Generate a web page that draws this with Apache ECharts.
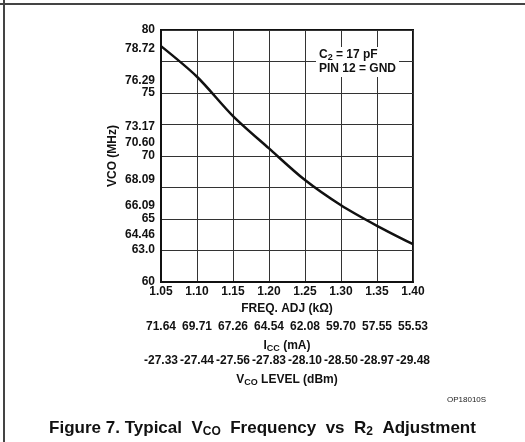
<!DOCTYPE html>
<html>
<head>
<meta charset="utf-8">
<script src="https://cdn.jsdelivr.net/npm/echarts@6/dist/echarts.min.js"></script>
<style>
html,body{margin:0;padding:0;background:#fff;}
#main{width:525px;height:442px;}
</style>
</head>
<body>
<div id="main"></div>
<script>
// ---- data ----
var freqAdj = [1.05, 1.10, 1.15, 1.20, 1.25, 1.30, 1.35, 1.40];       // kΩ
var vcoMHz  = [78.72, 76.29, 73.17, 70.60, 68.09, 66.09, 64.46, 63.0]; // MHz
var iccMA   = ['71.64', '69.71', '67.26', '64.54', '62.08', '59.70', '57.55', '55.53'];
var vcoLevel = ['-27.33', '-27.44', '-27.56', '-27.83', '-28.10', '-28.50', '-28.97', '-29.48'];
var yLabelValues = [80, 78.72, 76.29, 75, 73.17, 70.60, 70, 68.09, 66.09, 65, 64.46, 63.0, 60];
var yLabelText = ['80', '78.72', '76.29', '75', '73.17', '70.60', '70', '68.09', '66.09', '65', '64.46', '63.0', '60'];

// label nudges (style only) to mimic the reference's hand placement
var yLabelStyle = { '78.72': 'd3', '76.29': 'd4', '73.17': 'd11', '70.60': 'u6', '64.46': 'd9', '63.0': 'd5' };

var FONT = '"Liberation Sans", Arial, Helvetica, sans-serif';
var chart = echarts.init(document.getElementById('main'), null, { renderer: 'canvas' });

function idxOf(v) { return Math.round((v - 1.05) / 0.05); }

var baseLbl = { fontFamily: FONT, fontWeight: 'bold', fontSize: 12, color: '#111' };
function rich(extra) { return Object.assign({}, baseLbl, extra || {}); }

var seriesData = freqAdj.map(function (x, i) { return [x, vcoMHz[i]]; });

var option = {
  animation: false,
  backgroundColor: '#fff',
  title: {
    text: '{a|Figure 7. Typical  V}{s|CO}{a|  Frequency  vs  R}{s|2}{a|  Adjustment}',
    left: 'center',
    top: 413,
    textStyle: {
      rich: {
        a: { fontFamily: FONT, fontWeight: 'bold', fontSize: 17, color: '#111', lineHeight: 21 },
        s: { fontFamily: FONT, fontWeight: 'bold', fontSize: 12, color: '#111', lineHeight: 21, padding: [7, 0, 0, 0] }
      }
    }
  },
  grid: { left: 161, top: 30, width: 252, height: 252, show: true, borderColor: '#111', borderWidth: 2, backgroundColor: 'transparent' },
  xAxis: [
    {
      type: 'value', min: 1.05, max: 1.40, interval: 0.05, position: 'bottom',
      axisLine: { show: true, lineStyle: { color: '#111', width: 2 } },
      axisTick: { show: false },
      splitLine: { show: true, lineStyle: { color: '#333', width: 1 } },
      axisLabel: { margin: 4, formatter: function (v) { return v.toFixed(2); }, fontFamily: FONT, fontWeight: 'bold', fontSize: 12, color: '#111' },
      name: 'FREQ. ADJ (kΩ)', nameLocation: 'middle', nameGap: 20,
      nameTextStyle: { fontFamily: FONT, fontWeight: 'bold', fontSize: 12, color: '#111' }
    },
    {
      type: 'value', min: 1.05, max: 1.40, interval: 0.05, position: 'bottom', offset: 35, gridIndex: 0,
      axisLine: { show: false }, axisTick: { show: false }, splitLine: { show: false },
      axisLabel: { margin: 4, formatter: function (v) { return iccMA[idxOf(v)]; }, fontFamily: FONT, fontWeight: 'bold', fontSize: 12, color: '#111' },
      name: '{a|I}{s|CC}{a| (mA)}', nameLocation: 'middle', nameGap: 22,
      nameTextStyle: {
        rich: {
          a: rich({ lineHeight: 14 }),
          s: rich({ fontSize: 9, lineHeight: 14, padding: [6, 0, 0, 0] })
        }
      }
    },
    {
      type: 'value', min: 1.05, max: 1.40, interval: 0.05, position: 'bottom', offset: 69, gridIndex: 0,
      axisLine: { show: false }, axisTick: { show: false }, splitLine: { show: false },
      axisLabel: { margin: 4, formatter: function (v) { return vcoLevel[idxOf(v)]; }, fontFamily: FONT, fontWeight: 'bold', fontSize: 12, color: '#111' },
      name: '{a|V}{s|CO}{a| LEVEL (dBm)}', nameLocation: 'middle', nameGap: 20,
      nameTextStyle: {
        rich: {
          a: rich({ lineHeight: 14 }),
          s: rich({ fontSize: 9, lineHeight: 14, padding: [6, 0, 0, 0] })
        }
      }
    }
  ],
  yAxis: [
    {
      type: 'value', min: 60, max: 80, interval: 2.5,
      axisLine: { show: true, lineStyle: { color: '#111', width: 2 } },
      axisTick: { show: false },
      splitLine: { show: true, lineStyle: { color: '#333', width: 1 } },
      axisLabel: {
        margin: 6,
        customValues: yLabelValues,
        formatter: function (v) {
          var i = -1;
          for (var k = 0; k < yLabelValues.length; k++) { if (Math.abs(yLabelValues[k] - v) < 1e-6) { i = k; break; } }
          var t = i >= 0 ? yLabelText[i] : String(v);
          var st = yLabelStyle[t] || 'n';
          return '{' + st + '|' + t + '}';
        },
        rich: {
          n: rich(),
          d3: rich({ padding: [6, 0, 0, 0] }),
          d4: rich({ padding: [8, 0, 0, 0] }),
          d5: rich({ padding: [10, 0, 0, 0] }),
          d9: rich({ padding: [18, 0, 0, 0] }),
          d11: rich({ padding: [22, 0, 0, 0] }),
          u6: rich({ padding: [0, 0, 12, 0] })
        }
      },
      name: 'VCO (MHz)', nameLocation: 'middle', nameGap: 42,
      nameTextStyle: { fontFamily: FONT, fontWeight: 'bold', fontSize: 12, color: '#111' }
    }
  ],
  graphic: [
    { type: 'line', shape: { x1: 4, y1: 0, x2: 4, y2: 442 }, style: { stroke: '#444', lineWidth: 2 }, silent: true },
    { type: 'line', shape: { x1: 0, y1: 4, x2: 525, y2: 4 }, style: { stroke: '#444', lineWidth: 2 }, silent: true },
    {
      type: 'text', left: 316, top: 47, z: 10,
      style: {
        text: '{a|C}{s|2}{a| = 17 pF}\n{a|PIN 12 = GND}',
        backgroundColor: '#fff',
        padding: [1, 3, 1, 3],
        rich: {
          a: { fontFamily: FONT, fontWeight: 'bold', fontSize: 12, fill: '#111', lineHeight: 14 },
          s: { fontFamily: FONT, fontWeight: 'bold', fontSize: 9, fill: '#111', lineHeight: 14, padding: [6, 0, 0, 0] }
        }
      }
    },
    {
      type: 'text', left: 447, top: 396,
      style: { text: 'OP18010S', fontFamily: FONT, fontSize: 8, fill: '#222' }
    }
  ],
  series: [
    {
      type: 'line', xAxisIndex: 0, yAxisIndex: 0,
      data: seriesData,
      smooth: 0.3,
      showSymbol: false,
      lineStyle: { color: '#111', width: 2.5 }
    }
  ]
};
chart.setOption(option);
</script>
</body>
</html>
